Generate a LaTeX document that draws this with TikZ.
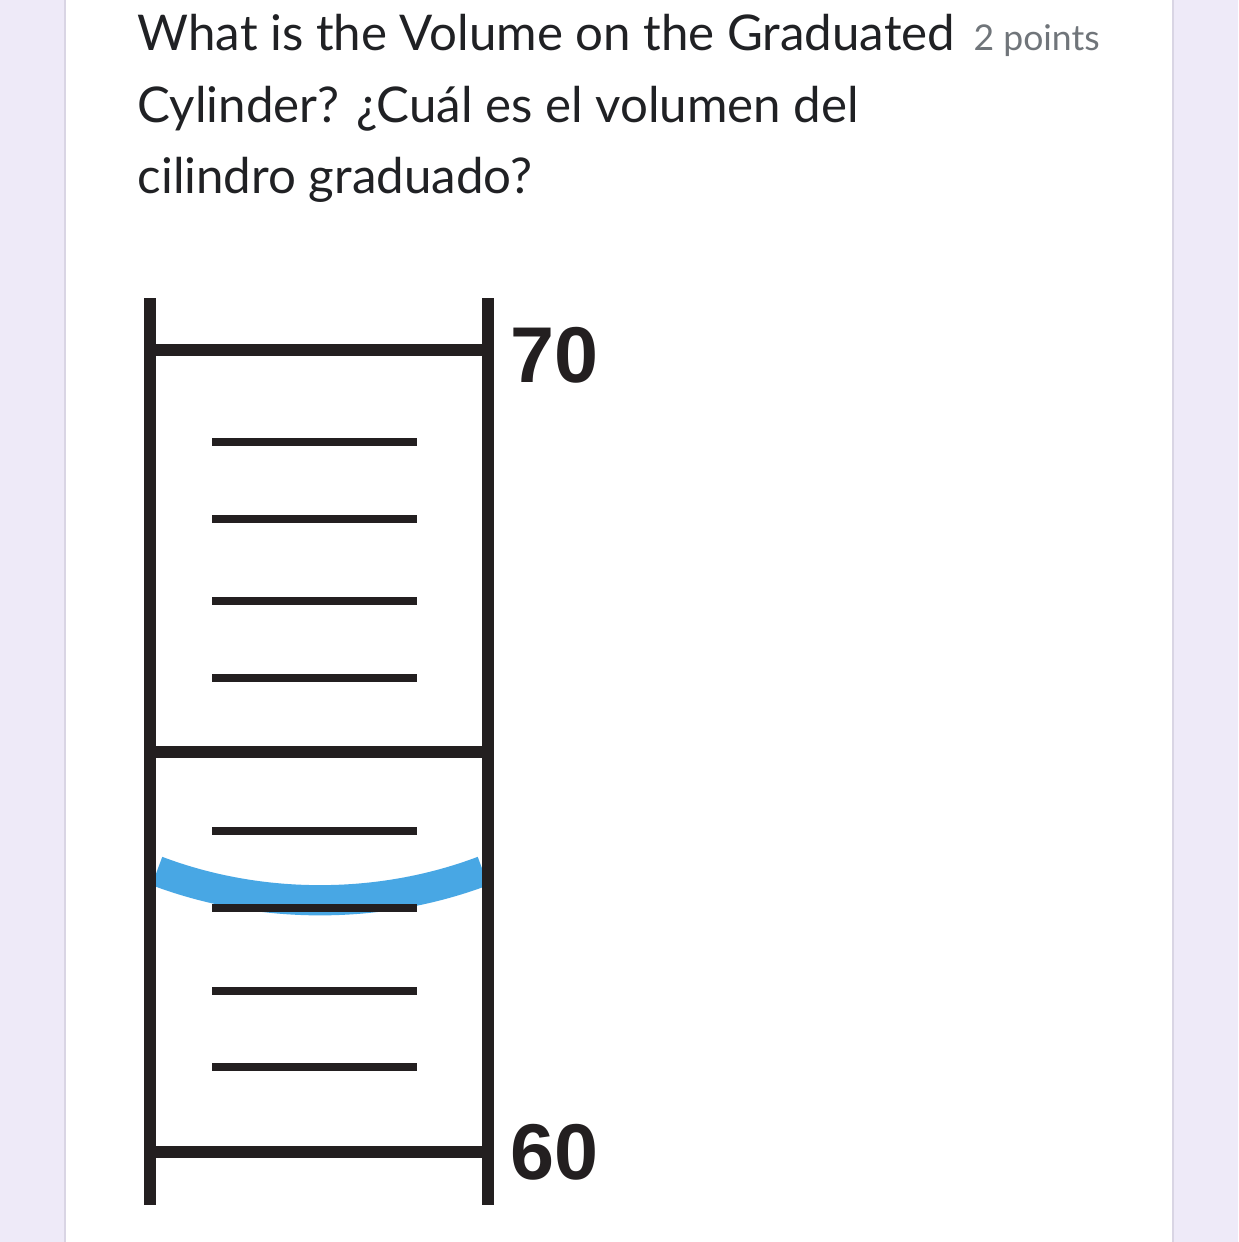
\documentclass[tikz,border=0pt]{standalone}
\usepackage{fontspec}
\setmainfont{Lato}
\newfontfamily\labelfont{Liberation Sans}
\usepackage{tikz}
\usetikzlibrary{calc}

\definecolor{pagebg}{HTML}{EEEAF8}
\definecolor{cardedge}{HTML}{D9D5E4}
\definecolor{titlegray}{HTML}{202124}
\definecolor{pointgray}{HTML}{70757A}
\definecolor{meniscus}{HTML}{48A7E4}
\definecolor{inkblack}{HTML}{231F20}

\tikzset{
  wall/.style={inkblack, line width=3.4pt},
  major/.style={inkblack, line width=3.2pt},
  minor/.style={inkblack, line width=2.4pt},
  question/.style={anchor=base west, inner sep=0pt, text=titlegray, font=\fontsize{14}{16}\selectfont},
  scalelabel/.style={anchor=west, inner sep=0pt, text=inkblack, font=\labelfont\bfseries\fontsize{22.5}{24}\selectfont}
}

\begin{document}
\begin{tikzpicture}[x=0.01cm, y=-0.01cm]
% page and card
\useasboundingbox (0,0) rectangle (1238,1242);
\fill[pagebg] (0,0) rectangle (1238,1242);
\fill[white] (65,0) rectangle (1173,1242);
\draw[cardedge, line width=0.6pt] (65,0) -- (65,1242);
\draw[cardedge, line width=0.6pt] (1173,0) -- (1173,1242);

% question text
\node[question] (line1) at (137,50) {What is the Volume on the Graduated};
\node[question] (line2) at (137,122) {Cylinder? ¿Cuál es el volumen del};
\node[question] (line3) at (137,193) {cilindro graduado?};
\node[anchor=base west, inner sep=0pt, text=pointgray, font=\fontsize{10.1}{12}\selectfont] (points) at (973,50) {2 points};

% meniscus
\draw[meniscus, line width=8.6pt] (157,871) .. controls (260,910) and (380,910) .. (483,871);

% walls
\draw[wall] (150,298) -- (150,1205);
\draw[wall] (488,298) -- (488,1205);

% major marks
\draw[major] (150,350) -- (488,350);
\draw[major] (150,752) -- (488,752);
\draw[major] (150,1152) -- (488,1152);

% minor marks
\foreach \y in {442,519,601,678,831,908,991,1067}
  \draw[minor] (212,\y) -- (417,\y);

% scale labels
\node[scalelabel] (seventy) at (510,355) {70};
\node[scalelabel] (sixty) at (510,1152) {60};
\end{tikzpicture}
\end{document}
